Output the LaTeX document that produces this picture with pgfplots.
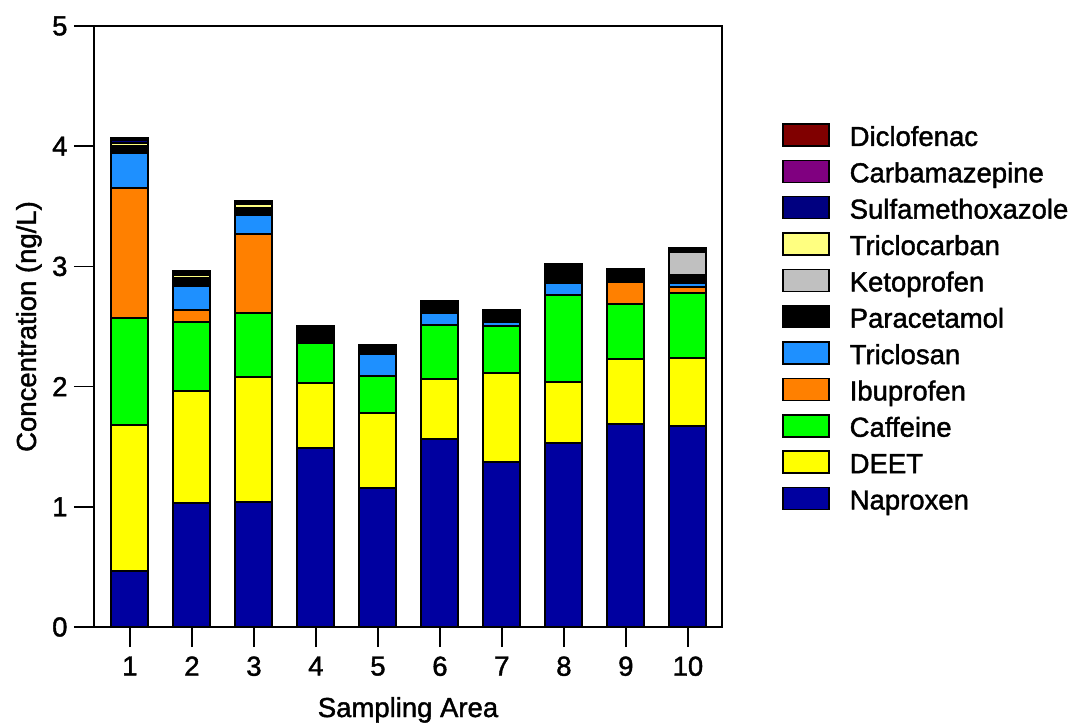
\documentclass[border=0pt]{standalone}
\usepackage{fontspec}
\setmainfont{Liberation Sans}[BoldFont={Liberation Sans}, BoldFeatures={FakeBold=1.5}]
\usepackage{pgfplots}
\pgfplotsset{compat=1.18}
\definecolor{cDiclo}{HTML}{800000}
\definecolor{cCarba}{HTML}{800080}
\definecolor{cSulfa}{HTML}{000080}
\definecolor{cTriclocarban}{HTML}{FFFF80}
\definecolor{cKeto}{HTML}{C0C0C0}
\definecolor{cPara}{HTML}{000000}
\definecolor{cTriclosan}{HTML}{1E90FF}
\definecolor{cIbu}{HTML}{FF8000}
\definecolor{cCaff}{HTML}{00FF00}
\definecolor{cDEET}{HTML}{FFFF00}
\definecolor{cNap}{HTML}{0000A0}
\newcommand{\bigfont}{\fontsize{27.5bp}{30bp}\selectfont\bfseries}
\begin{document}
\begin{tikzpicture}
\begin{axis}[name=ax, at={(0,0)}, anchor=south west,
  scale only axis, width=628bp, height=601bp,
  xmin=0.42, xmax=10.55, ymin=0, ymax=5,
  ybar stacked, bar width=37bp,
  xtick={1,...,10}, ytick={0,...,5},
  tick align=outside, xtick pos=lower, ytick pos=left,
  major tick length=20bp,
  every tick/.style={black, line width=1.6bp},
  axis line style={line width=1.6bp},
  tick label style={font=\bigfont},
  xticklabel style={yshift=-6bp},
  yticklabel style={xshift=-3bp},
  /pgf/number format/assume math mode=true,
  label style={font=\bigfont},
  xlabel={Sampling Area}, ylabel={Concentration (ng/L)},
  xlabel style={at={(axis description cs:0.5,-0.1498)}, anchor=base},
  ylabel style={at={(axis description cs:-0.0924,0.5)}, anchor=base},
  every axis plot/.append style={draw=black, line width=2bp},
  reverse legend,
  legend cell align=left,
  legend image code/.code={\draw[#1, line width=1.5bp] (0bp,-7bp) rectangle (46bp,15bp);},
  legend style={at={(axis description cs:1,1)}, anchor=north west, xshift=60bp, yshift=-97bp,
    draw=none, fill=none, inner sep=0pt, font=\bigfont, row sep=7.6bp,
    nodes={inner sep=0pt, text height=20bp, text depth=6bp},
    /tikz/every odd column/.append style={column sep=20bp}},
]
\addplot[fill=cNap] coordinates {(1,0.47) (2,1.03) (3,1.04) (4,1.49) (5,1.16) (6,1.56) (7,1.37) (8,1.53) (9,1.69) (10,1.67)};
\addlegendentry{Naproxen}
\addplot[fill=cDEET] coordinates {(1,1.21) (2,0.93) (3,1.04) (4,0.54) (5,0.62) (6,0.50) (7,0.74) (8,0.51) (9,0.54) (10,0.57)};
\addlegendentry{DEET}
\addplot[fill=cCaff] coordinates {(1,0.89) (2,0.58) (3,0.53) (4,0.33) (5,0.31) (6,0.45) (7,0.39) (8,0.72) (9,0.46) (10,0.54)};
\addlegendentry{Caffeine}
\addplot[fill=cIbu] coordinates {(1,1.08) (2,0.10) (3,0.66) (4,0) (5,0) (6,0) (7,0) (8,0) (9,0.18) (10,0.05)};
\addlegendentry{Ibuprofen}
\addplot[fill=cTriclosan] coordinates {(1,0.29) (2,0.20) (3,0.16) (4,0) (5,0.18) (6,0.10) (7,0.04) (8,0.10) (9,0) (10,0.03)};
\addlegendentry{Triclosan}
\addplot[fill=cPara] coordinates {(1,0.06) (2,0.065) (3,0.06) (4,0.14) (5,0.08) (6,0.10) (7,0.10) (8,0.16) (9,0.11) (10,0.07)};
\addlegendentry{Paracetamol}
\addplot[fill=cKeto] coordinates {(1,0) (2,0) (3,0) (4,0) (5,0) (6,0) (7,0) (8,0) (9,0) (10,0.19)};
\addlegendentry{Ketoprofen}
\addplot[fill=cTriclocarban] coordinates {(1,0.03) (2,0.025) (3,0.025) (4,0) (5,0) (6,0) (7,0) (8,0) (9,0) (10,0)};
\addlegendentry{Triclocarban}
\addplot[fill=cSulfa] coordinates {(1,0.02) (2,0.015) (3,0.015) (4,0) (5,0) (6,0) (7,0) (8,0) (9,0) (10,0.015)};
\addlegendentry{Sulfamethoxazole}
\addplot[fill=cCarba] coordinates {(1,0.01) (2,0.01) (3,0.01) (4,0) (5,0) (6,0) (7,0) (8,0) (9,0) (10,0.01)};
\addlegendentry{Carbamazepine}
\addplot[fill=cDiclo] coordinates {(1,0.01) (2,0.005) (3,0.005) (4,0) (5,0) (6,0) (7,0) (8,0) (9,0) (10,0.005)};
\addlegendentry{Diclofenac}
\end{axis}
\pgfresetboundingbox
\path[use as bounding box] ([shift={(-94bp,-97bp)}]ax.south west) rectangle ([shift={(980bp,627bp)}]ax.south west);
\end{tikzpicture}
\end{document}
